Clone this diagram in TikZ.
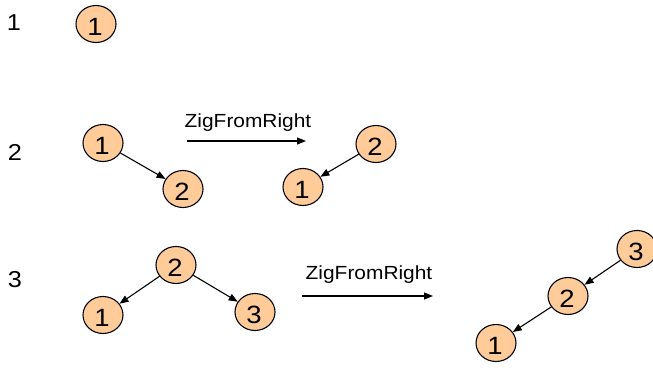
\documentclass[tikz,border=0pt]{standalone}
\usepackage{fontspec}
\usepackage{graphicx}
\setmainfont{Liberation Sans}
\usetikzlibrary{shapes.geometric,arrows.meta}
\definecolor{peach}{RGB}{255,204,153}
\newcommand{\wide}[1]{\scalebox{1.1}[1]{#1}}
\tikzset{
  tnode/.style={ellipse, draw=black, line width=1.1pt, fill=peach,
    minimum width=40pt, minimum height=37pt, inner sep=0pt},
  dig/.style={inner sep=0pt, font=\fontsize{25}{27}\selectfont},
  rowlab/.style={font=\fontsize{23}{26}\selectfont, inner sep=0pt},
  oplab/.style={font=\fontsize{19}{22}\selectfont, inner sep=0pt},
  edge/.style={line width=1.1pt, -{Triangle[length=9pt,width=7pt]}},
}
\newcommand{\tn}[3]{\node[tnode] (#1) at (#2) {}; \node[dig] (#1t) at ([xshift=-1pt,yshift=-3pt]#1.center) {\wide{#3}};}
\begin{document}
\begin{tikzpicture}[x=1pt,y=-1pt]
\useasboundingbox (0,0) rectangle (653,367);
\clip (0,0) rectangle (653,367);
% row labels
\node[rowlab] (r1) at (14,23) {\wide{1}};
\node[rowlab] (r2) at (15,152) {\wide{2}};
\node[rowlab] (r3) at (15,280) {\wide{3}};
% row 1
\tn{n1}{96,24}{1}
% row 2 left
\tn{a1}{103,143}{1}
\tn{a2}{183,189}{2}
\draw[edge] (a1) -- (a2);
% row 2 operation
\node[oplab] (op2) at (248,123) {\wide{ZigFromRight}};
\coordinate (op2s) at (187,141);
\coordinate (op2e) at (306,141);
\draw[edge] (op2s) -- (op2e);
% row 2 right
\tn{b2}{376,144}{2}
\tn{b1}{303,187}{1}
\draw[edge] (b2) -- (b1);
% row 3 left
\tn{c2}{176,265}{2}
\tn{c1}{103,315}{1}
\tn{c3}{255,312}{3}
\draw[edge] (c2) -- (c1);
\draw[edge] (c2) -- (c3);
% row 3 operation
\node[oplab] (op3) at (369,275) {\wide{ZigFromRight}};
\coordinate (op3s) at (302,296);
\coordinate (op3e) at (433,296);
\draw[edge] (op3s) -- (op3e);
% row 3 right
\tn{d3}{637,249}{3}
\tn{d2}{568,296}{2}
\tn{d1}{496,343}{1}
\draw[edge] (d3) -- (d2);
\draw[edge] (d2) -- (d1);
\end{tikzpicture}
\end{document}
